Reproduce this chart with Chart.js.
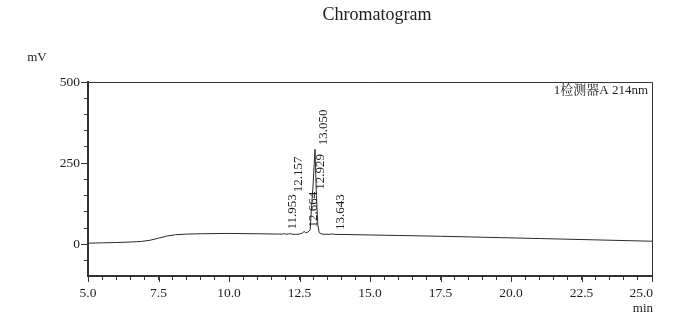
<!DOCTYPE html>
<html>
<head>
<meta charset="utf-8">
<script src="https://cdn.jsdelivr.net/npm/chart.js@4/dist/chart.umd.min.js"></script>
<style>
  html, body { margin: 0; padding: 0; background: #fff; }
</style>
</head>
<body>
<canvas id="chrom" width="692" height="330"></canvas>
<script>
// Detector trace: retention time (min) and signal (mV)
const retentionTime = [
  5.0, 5.5, 6.0, 6.5, 6.9, 7.2, 7.5, 7.8, 8.1, 8.5, 9.0, 10.0, 11.0, 11.8,
  11.9, 11.953, 12.0, 12.1, 12.157, 12.22, 12.35, 12.5, 12.6, 12.664, 12.72,
  12.8, 12.88, 12.929, 12.98, 13.05, 13.1, 13.15, 13.2, 13.3,
  13.55, 13.643, 13.75, 13.9, 15.0, 16.0, 17.5, 19.0, 21.0, 23.0, 25.0
];
const signalMv = [
  4, 5, 6, 7.5, 9.5, 13, 19.5, 26, 30, 32, 33, 34, 33, 32,
  32, 33.5, 32, 32, 33.5, 32, 31, 32, 35, 40, 36,
  38, 45, 120, 180, 293, 150, 60, 36, 32,
  31, 32.5, 31, 31, 29.3, 27.7, 25.3, 22.3, 18.3, 14.2, 10
];

// Integrated peaks (retention times printed above the trace)
const peakTimes = [11.953, 12.157, 12.664, 12.929, 13.050, 13.643];

// Labelled axis ticks
const xMajorTicks = [5.0, 7.5, 10.0, 12.5, 15.0, 17.5, 20.0, 22.5, 25.0];
const yMajorTicks = [0, 250, 500];

const chartTitle = 'Chromatogram';
const detectorName = '1检测器A 214nm';
const yUnit = 'mV';
const xUnit = 'min';

const SERIF = '"Liberation Serif", "Times New Roman", "Noto Serif CJK SC", "Noto Sans CJK SC", serif';
const INK = '#1e1e1e';
const AXIS = '#333333';

const isMultiple = (v, step) => Math.abs(v / step - Math.round(v / step)) < 1e-6;

const tracePoints = retentionTime.map((t, i) => ({ x: t, y: signalMv[i] }));

// Frame, long major ticks, tick labels, units, title, detector name, peak labels
const decorations = {
  id: 'decorations',
  afterDraw(chart) {
    const { ctx, chartArea: a, scales: { x, y } } = chart;
    ctx.save();

    // thin top/right frame
    ctx.strokeStyle = AXIS;
    ctx.lineWidth = 1;
    ctx.beginPath();
    ctx.moveTo(a.left, a.top + 0.5);
    ctx.lineTo(a.right + 0.5, a.top + 0.5);
    ctx.lineTo(a.right + 0.5, a.bottom);
    ctx.stroke();

    // major ticks
    ctx.beginPath();
    yMajorTicks.forEach(v => {
      const py = Math.round(y.getPixelForValue(v)) + 0.5;
      ctx.moveTo(a.left - 7, py);
      ctx.lineTo(a.left, py);
    });
    xMajorTicks.forEach(v => {
      const px = Math.round(x.getPixelForValue(v)) + 0.5;
      ctx.moveTo(px, a.bottom);
      ctx.lineTo(px, a.bottom + 6);
    });
    ctx.stroke();

    // tick labels
    ctx.fillStyle = INK;
    ctx.font = '13.5px ' + SERIF;
    ctx.textBaseline = 'middle';
    ctx.textAlign = 'right';
    yMajorTicks.forEach(v => {
      ctx.fillText(String(v), a.left - 8, y.getPixelForValue(v));
    });
    xMajorTicks.forEach((v, i) => {
      const last = i === xMajorTicks.length - 1;
      ctx.textAlign = last ? 'right' : 'center';
      const px = x.getPixelForValue(v);
      ctx.fillText(v.toFixed(1), last ? px + 1 : px, a.bottom + 17);
    });

    // units
    ctx.font = '13px ' + SERIF;
    ctx.textAlign = 'center';
    ctx.fillText(yUnit, 37, 58);
    ctx.textAlign = 'right';
    ctx.fillText(xUnit, a.right + 1, a.bottom + 33);

    // title
    ctx.font = '18px ' + SERIF;
    ctx.textAlign = 'center';
    ctx.fillText(chartTitle, 377, 15);

    // detector name
    ctx.font = '13px ' + SERIF;
    ctx.textAlign = 'right';
    ctx.fillText(detectorName, a.right - 4, a.top + 9);

    // peak retention-time labels, stacked upward when they would collide
    ctx.font = '13px ' + SERIF;
    ctx.textAlign = 'left';
    ctx.textBaseline = 'middle';
    const fs = 13;
    let prev = null;
    peakTimes.forEach(t => {
      const idx = retentionTime.indexOf(t);
      const h = signalMv[idx];
      const text = t.toFixed(3);
      const len = ctx.measureText(text).width;
      const px = x.getPixelForValue(t) + 9;
      let bottom = y.getPixelForValue(h) - 4;
      if (prev && px - prev.px < fs) {
        bottom = Math.min(bottom, prev.top - 2);
      }
      ctx.save();
      ctx.translate(px, bottom);
      ctx.rotate(-Math.PI / 2);
      ctx.fillText(text, 0, 0);
      ctx.restore();
      prev = { px, top: bottom - len };
    });

    ctx.restore();
  }
};

new Chart(document.getElementById('chrom'), {
  type: 'line',
  data: {
    datasets: [{
      data: tracePoints,
      borderColor: '#2a2a2a',
      borderWidth: 1,
      pointRadius: 0,
      tension: 0,
      fill: false
    }]
  },
  options: {
    responsive: false,
    animation: false,
    devicePixelRatio: 1,
    layout: { padding: { left: 0, right: 40, top: 82, bottom: 0 } },
    plugins: {
      legend: { display: false },
      title: { display: false },
      tooltip: { enabled: false }
    },
    scales: {
      x: {
        type: 'linear',
        min: 5,
        max: 25,
        ticks: { stepSize: 0.5, display: false },
        grid: { drawOnChartArea: false, drawTicks: true, tickLength: 4, tickColor: AXIS, tickWidth: 1 },
        border: { color: AXIS, width: 2 },
        afterFit(s) { s.height = 54; }
      },
      y: {
        type: 'linear',
        min: -97,
        max: 500,
        ticks: { stepSize: 50, display: false },
        afterBuildTicks(s) { s.ticks = s.ticks.filter(t => isMultiple(t.value, 50)); },
        grid: { drawOnChartArea: false, drawTicks: true, tickLength: 4, tickColor: AXIS, tickWidth: 1 },
        border: { color: AXIS, width: 2 },
        afterFit(s) { s.width = 88; }
      }
    }
  },
  plugins: [decorations]
});
</script>
</body>
</html>
